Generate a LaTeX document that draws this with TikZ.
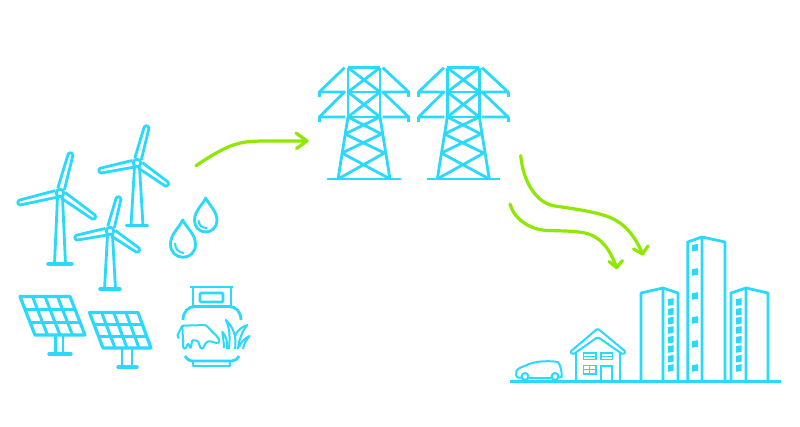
\documentclass[tikz,border=0pt]{standalone}
\usetikzlibrary{calc}
\definecolor{cy}{HTML}{2AD9FB}
\definecolor{gr}{HTML}{8FE800}
\tikzset{
  x=1pt,y=-1pt,
  ln/.style={draw=cy,line width=2.8pt,line join=round},
  th/.style={draw=cy,line width=2pt,line join=round},
  thk/.style={draw=cy,line width=3.4pt,line cap=round},
  flow/.style={draw=gr,line width=3.2pt,line cap=round,line join=round},
}
\newcommand{\blade}[2]{%
  \draw[ln,rounded corners=1.6pt] ($(#1)!4pt!(#2)!3.4pt!90:(#2)$) -- ($(#2)!2.4pt!-90:(#1)$) -- ($(#2)!2.4pt!90:(#1)$) -- ($(#1)!4pt!(#2)!3.4pt!-90:(#2)$);}
\newcommand{\turbine}[7]{% hub, up, left, right; base half; base y; foot half
  \coordinate (H) at (#1);
  \blade{H}{#2}\blade{H}{#3}\blade{H}{#4}
  \draw[ln] (H) ++(-2.5,4) -- ($(H)+(-#5,#6)$);
  \draw[ln] (H) ++(2.5,4) -- ($(H)+(#5,#6)$);
  \draw[ln,fill=white] (H) circle (3.8);
  \draw[thk] ($(H)+(-#7,#6)$) -- ($(H)+(#7,#6)$);
}
\newcommand{\tower}[1]{%
 \begin{scope}[shift={(#1,0)}]
  \draw[ln] (348,67.7) -- (380,67.7) (348,67.7) -- (348,117) (380,67.7) -- (380,117);
  \draw[ln] (348,92) -- (380,92) (348,117) -- (380,117);
  \draw[ln] (348,67.7) -- (380,92) (380,67.7) -- (348,92) (348,92) -- (380,117) (380,92) -- (348,117);
  \draw[ln] (344.5,67.7) -- (319.3,92) -- (344.5,92) -- (319.3,117) -- (345,117);
  \draw[ln] (319.3,92) -- (319.3,97) (319.3,117) -- (319.3,122);
  \draw[ln] (382.7,67.7) -- (408.8,92) -- (382.7,92) -- (408.8,117) -- (382.7,117);
  \draw[ln] (408.8,92) -- (408.8,97) (408.8,117) -- (408.8,122);
  \draw[ln] (348,117) -- (338,179) (380,117) -- (390,179);
  \draw[ln] (348,117) -- (381.5,134) (380,117) -- (345,134);
  \draw[ln] (345,134) -- (384.5,153) (381.5,134) -- (342,153);
  \draw[ln] (342,153) -- (390,179) (384.5,153) -- (338,179);
  \draw[ln] (327.3,179) -- (401,179);
 \end{scope}}
\newcommand{\panel}[4]{% TL TR BR BL
  \coordinate (TL) at (#1);\coordinate (TR) at (#2);\coordinate (BR) at (#3);\coordinate (BL) at (#4);
  \draw[draw=cy,line width=3.2pt,line join=round] (TL)--(TR)--(BR)--(BL)--cycle;
  \foreach \f in {0.25,0.5,0.75}{\draw[draw=cy,line width=3pt] ($(TL)!\f!(TR)$) -- ($(BL)!\f!(BR)$);}
  \foreach \f in {0.333,0.667}{\draw[draw=cy,line width=3pt] ($(TL)!\f!(BL)$) -- ($(TR)!\f!(BR)$);}
}
\newcommand{\win}[2]{\fill[cy] (#1-2.8,#2-2.8) -- (#1+2.8,#2-3.8) -- (#1+2.8,#2+2.8) -- (#1-2.8,#2+3.8) -- cycle;}
\begin{document}
\begin{tikzpicture}
\useasboundingbox (0,0) rectangle (800,427);
\fill[white] (0,0) rectangle (800,427);
% turbines
\turbine{60,193}{71,153}{18,203}{95,218}{5.5}{71}{12}
\turbine{137,163}{147,126}{99,171}{168,185}{6}{62.5}{10.5}
\turbine{110,231}{119,197}{75,238}{139,251}{5.5}{58}{10}
% drops
\draw[ln] (182.7,220) .. controls (179,228) and (170.5,234) .. (170.5,244.5) .. controls (170.5,252) and (176,257.3) .. (183,257.3) .. controls (190,257.3) and (195.5,252) .. (195.5,244.5) .. controls (195.5,234) and (186.5,228) .. (182.7,220) -- cycle;
\draw[th] (175,243) .. controls (175,249) and (178.5,252.5) .. (184,253);
\draw[ln] (205.7,198) .. controls (202.5,205) and (194.5,211) .. (194.5,220.5) .. controls (194.5,227) and (199.5,232) .. (205.7,232) .. controls (212,232) and (217,227) .. (217,220.5) .. controls (217,211) and (209,205) .. (205.7,198) -- cycle;
\draw[th] (198.5,220) .. controls (198.5,225) and (202,228) .. (207,228);
% panels
\panel{20,296.5}{70,296.5}{85,335}{35,335}
\draw[ln] (55.5,335) -- (55.5,354) (63,335) -- (63,354);
\draw[thk] (49,354) -- (71,354);
\panel{89.5,312.5}{138,312.5}{151,348}{103,348}
\draw[ln] (122,348) -- (122,367) (132,348) -- (132,367);
\draw[thk] (118,367) -- (137,367);
% tank
\draw[ln] (190,287) -- (233,287) (193,287) -- (193,306) (231,287) -- (231,306);
\draw[ln,rounded corners=1pt] (200,293) rectangle (223,302);
\draw[ln] (183,320) .. controls (183,312) and (188,306.5) .. (195,306.5) -- (229,306.5) .. controls (236,306.5) and (241,312) .. (241,320);
\draw[ln] (185,356) .. controls (187,359) and (189,361) .. (193,361) -- (232,361) .. controls (235,361) and (237,359) .. (239,356);
\draw[ln] (193,361) -- (193,366) -- (230,366) -- (230,361);
% cow
\draw[th,rounded corners=1pt]
 (182.3,325.7) -- (205.7,325) -- (217.3,336.7) -- (219.5,340) -- (218,343.5) -- (214,342.3) -- (209,341) -- (205.7,343) -- (203,348.5) -- (200.7,348.5) -- (198,341) -- (192.3,340) -- (190.7,348.5) -- (188,343.3) -- (185.7,348.5) -- (183.3,348.5) -- (183,340) -- cycle;
\draw[th,line cap=round] (182.3,325.7) -- (177.5,335) -- (178.5,338);
% grass
\draw[th] (229,349) .. controls (230,338) and (230,328) .. (225.7,320) .. controls (233,326) and (237,337) .. (235,349);
\draw[th] (227,349) .. controls (228,342) and (226,336) .. (222.3,331.7) .. controls (223,338) and (224,343) .. (224,348);
\draw[th] (235,336) .. controls (237,331) and (241,327) .. (247.3,325) .. controls (242,331) and (239,340) .. (238,349);
\draw[th] (239,347) .. controls (241,342) and (245,338) .. (249.5,336) .. controls (246,340) and (244,344) .. (243,349);
% tower
\tower{0}
\tower{99.3}
% ground
\coordinate (g1) at (510,381.5);\coordinate (g2) at (781,381.5);
\draw[draw=cy,line width=3.2pt] (g1) -- (g2);
% car
\draw[th,line cap=round] (521,377.5) -- (518,377.5) .. controls (516,377) and (515.5,373) .. (516.5,371) .. controls (518,368) and (522,367) .. (526,365.5) .. controls (532,362) and (545,360) .. (558,362) .. controls (561,366) and (562,372) .. (561.5,377) -- (559,377.5);
\draw[th] (529,377.5) -- (551,377.5);
\draw[th,fill=white] (525,376.5) circle (3.4) (555,376.5) circle (3.4);
% house
\draw[th,rounded corners=1.5pt] (573,354.5) -- (570,352) -- (597.7,328.5) -- (626,352) -- (623,354.5) -- (597.7,337) -- cycle;
\draw[th] (576,353) -- (576,380) (620,353) -- (620,380);
\draw[draw=cy,line width=1.3pt] (583.5,353) rectangle (596,359.5) (583.5,356.2) -- (596,356.2);
\draw[draw=cy,line width=1.3pt] (601,353) rectangle (612.5,359.5) (601,356.2) -- (612.5,356.2);
\draw[draw=cy,line width=1.3pt] (583.5,365.5) rectangle (596,374) (583.5,369.7) -- (596,369.7) (589.7,365.5) -- (589.7,374);
\draw[draw=cy,line width=1.6pt] (601,380) -- (601,366) -- (612,366) -- (612,380);
% buildings
\draw[ln] (641,380) -- (641,293) -- (663,288) -- (678,293) -- (678,380) (663,288) -- (663,380);
\draw[ln] (687.7,380) -- (687.7,242) -- (702,237) -- (725,242) -- (725,380) (702,237) -- (702,380);
\draw[ln] (731,380) -- (731,293) -- (746,288) -- (768,293) -- (768,380) (746,288) -- (746,380);
\foreach \y in {302,311.7,320.7,330,339.7,349,358.7,368}{\win{670.7}{\y}\win{738.7}{\y}}
\foreach \y in {247.7,272,296,320,344,368}{\win{695}{\y}}
% arrows
\coordinate (a1s) at (196,165.7);\coordinate (a1e) at (307,141);
\draw[flow] (a1s) .. controls (212,155) and (228,145) .. (243,142.5) .. controls (252,140.5) and (270,141) .. (a1e);
\draw[flow] (296,133) -- (a1e) -- (296.5,148.5);
\coordinate (a2s) at (520.7,155.7);\coordinate (a2e) at (642.5,254);
\draw[flow] (a2s) .. controls (523,180) and (535,203) .. (555,206) .. controls (575,209) and (590,211) .. (603,215) .. controls (625,221) and (636,238) .. (a2e);
\draw[flow] (633.5,249) -- (a2e) -- (648,246);
\coordinate (a3s) at (510,204);\coordinate (a3e) at (616.7,267.7);
\draw[flow] (a3s) .. controls (514,219) and (530,230) .. (548,230.5) .. controls (565,231) and (575,231) .. (585,233) .. controls (602,237) and (610,250) .. (a3e);
\draw[flow] (609,261.5) -- (a3e) -- (622.5,260.5);
\end{tikzpicture}
\end{document}
